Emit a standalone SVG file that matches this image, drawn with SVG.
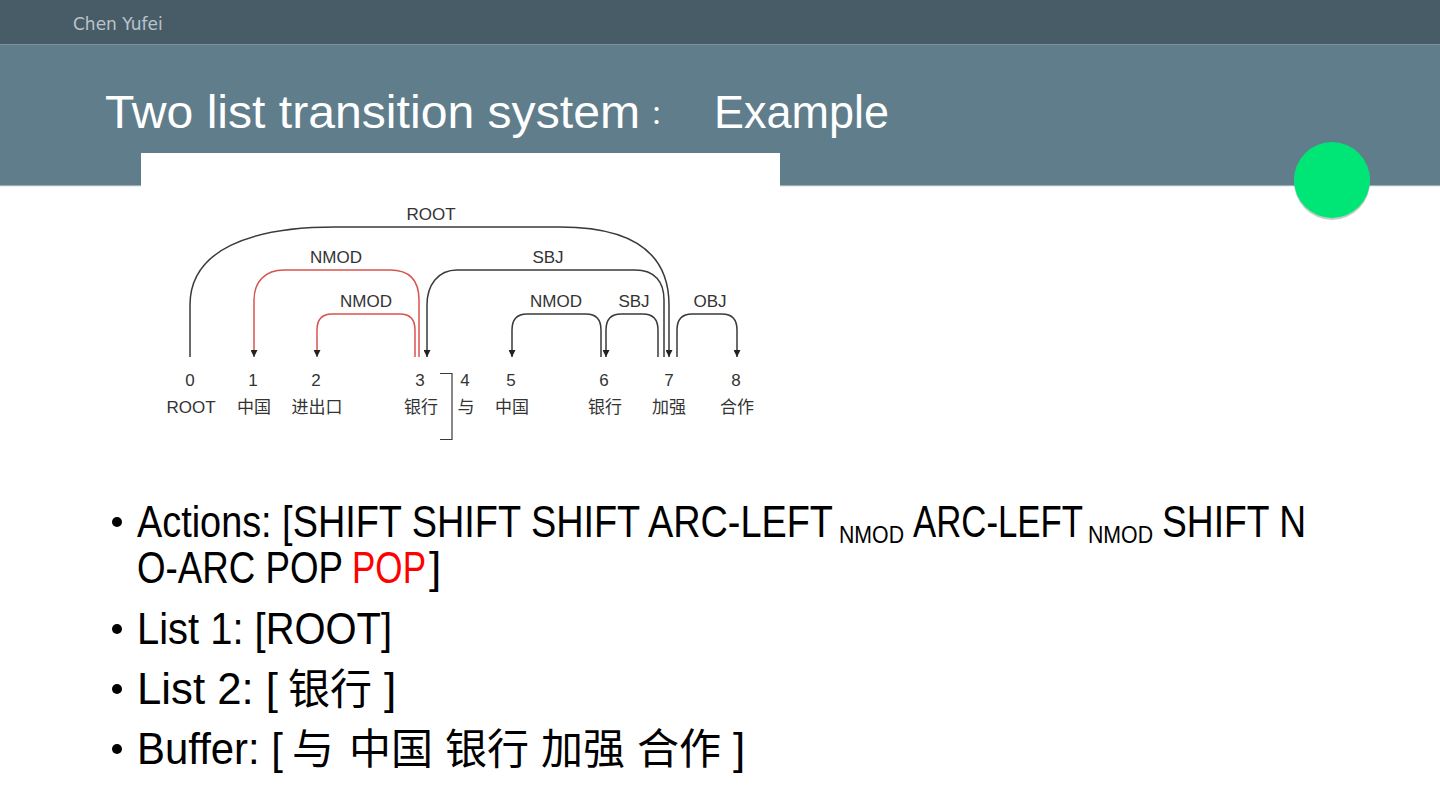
<svg xmlns="http://www.w3.org/2000/svg" width="1440" height="810" viewBox="0 0 1440 810">
<style>
.hdr{font-family:"DejaVu Sans",sans-serif;font-size:17px;fill:#b9c4ca}
.title{font-family:"Liberation Sans","Noto Sans CJK SC",sans-serif;font-size:47px;fill:#ffffff}
.lbl{font-family:"Liberation Sans",Arial,sans-serif;font-size:17px;fill:#333333;text-anchor:middle}
.cjk{font-family:"Noto Sans CJK SC",sans-serif;font-size:17px;fill:#333333;text-anchor:middle}
.arc{fill:none;stroke:#3a3a3a;stroke-width:1.5}
.red{stroke:#d9534f}
.body{font-family:"Liberation Sans Narrow","Liberation Sans","Noto Sans CJK SC",sans-serif;font-size:44px;fill:#000000}
.sub{font-family:"Liberation Sans Narrow","Liberation Sans",sans-serif;font-size:24px;fill:#000000}
.bcjk{font-family:"Noto Sans CJK SC",sans-serif;font-size:42px;fill:#000000}
</style>
<defs>
<marker id="ah" viewBox="0 0 10 10" refX="10" refY="5" markerWidth="7" markerHeight="7" markerUnits="userSpaceOnUse" orient="auto">
<path d="M0,0 L10,5 L0,10 z" fill="#222"/>
</marker>
</defs>
<!-- background bands -->
<rect x="0" y="0" width="1440" height="810" fill="#ffffff"/>
<rect x="0" y="0" width="1440" height="44" fill="#485c68"/>
<rect x="0" y="44" width="1440" height="142" fill="#607d8b"/>
<line x1="0" y1="44.5" x2="1440" y2="44.5" stroke="#7d939e" stroke-width="1"/>
<line x1="0" y1="186" x2="1440" y2="186" stroke="#d7e0e5" stroke-width="1"/>
<text class="hdr" x="73" y="30">Chen Yufei</text>
<text class="title" y="128"><tspan x="105" textLength="535" lengthAdjust="spacingAndGlyphs">Two list transition system</tspan><tspan x="650" style="font-size:26px" dy="-4">：</tspan><tspan x="714" y="128" textLength="175" lengthAdjust="spacingAndGlyphs">Example</tspan></text>
<!-- green circle -->
<circle cx="1332" cy="182" r="38" fill="#9aa89f" opacity="0.6"/>
<circle cx="1332" cy="180" r="38" fill="#00e676"/>
<!-- image area -->
<rect x="141" y="153" width="639" height="300" fill="#ffffff"/>
<g id="connectors">
<path class="arc" d="M190,357 V305 C190,250 250,227 335,227 H560 C635,227 669,255 669,305 V357" marker-end="url(#ah)"/>
<path class="arc red" d="M419,357 V300 C419,280 410,270 390,270 H284 C265,270 254,282 254,300 V357" marker-end="url(#ah)"/>
<path class="arc red" d="M415,357 V330 C415,320 410,314 400,314 H332 C322,314 317,320 317,330 V357" marker-end="url(#ah)"/>
<path class="arc" d="M664,357 V300 C664,282 655,270 635,270 H457 C438,270 427,285 427,305 V357" marker-end="url(#ah)"/>
<path class="arc" d="M601,357 V330 C601,320 596,314 586,314 H527 C517,314 512,320 512,330 V357" marker-end="url(#ah)"/>
<path class="arc" d="M658,357 V330 C658,320 653,314 643,314 H621 C611,314 606,320 606,330 V357" marker-end="url(#ah)"/>
<path class="arc" d="M677,357 V330 C677,320 682,314 692,314 H722 C732,314 737,320 737,330 V357" marker-end="url(#ah)"/>
<path d="M440,373.5 H452 V439.5 H440" fill="none" stroke="#3a3a3a" stroke-width="1.2"/>
<text class="lbl" x="431" y="220">ROOT</text>
<text class="lbl" x="336" y="263">NMOD</text>
<text class="lbl" x="366" y="307">NMOD</text>
<text class="lbl" x="548" y="263">SBJ</text>
<text class="lbl" x="556" y="307">NMOD</text>
<text class="lbl" x="634" y="307">SBJ</text>
<text class="lbl" x="710" y="307">OBJ</text>
</g>
<g id="n0"><text class="lbl" x="190" y="386">0</text><text class="lbl" x="191" y="413">ROOT</text></g>
<g id="n1"><text class="lbl" x="253" y="386">1</text><text class="cjk" x="254" y="413">中国</text></g>
<g id="n2"><text class="lbl" x="316" y="386">2</text><text class="cjk" x="317" y="413">进出口</text></g>
<g id="n3"><text class="lbl" x="420" y="386">3</text><text class="cjk" x="421" y="413">银行</text></g>
<g id="n4"><text class="lbl" x="465" y="386">4</text><text class="cjk" x="466" y="413">与</text></g>
<g id="n5"><text class="lbl" x="511" y="386">5</text><text class="cjk" x="512" y="413">中国</text></g>
<g id="n6"><text class="lbl" x="604" y="386">6</text><text class="cjk" x="605" y="413">银行</text></g>
<g id="n7"><text class="lbl" x="669" y="386">7</text><text class="cjk" x="669" y="413">加强</text></g>
<g id="n8"><text class="lbl" x="736" y="386">8</text><text class="cjk" x="737" y="413">合作</text></g>
<!-- bullets -->
<g id="bullets">
<circle cx="117" cy="522" r="5" fill="#000"/>
<text class="body" x="137" y="537" textLength="696" lengthAdjust="spacingAndGlyphs">Actions: [SHIFT SHIFT SHIFT ARC-LEFT</text>
<text class="sub" x="839" y="543" textLength="65" lengthAdjust="spacingAndGlyphs">NMOD</text>
<text class="body" x="913" y="537" textLength="170" lengthAdjust="spacingAndGlyphs">ARC-LEFT</text>
<text class="sub" x="1088" y="543" textLength="65" lengthAdjust="spacingAndGlyphs">NMOD</text>
<text class="body" x="1162" y="537" textLength="144" lengthAdjust="spacingAndGlyphs">SHIFT N</text>
<text class="body" x="137" y="583" textLength="206" lengthAdjust="spacingAndGlyphs">O-ARC POP</text>
<text class="body" x="352" y="583" style="fill:#ff0000" textLength="74" lengthAdjust="spacingAndGlyphs">POP</text>
<text class="body" x="429" y="583">]</text>
<circle cx="117" cy="629" r="5" fill="#000"/>
<text class="body" x="137" y="644" textLength="255" lengthAdjust="spacingAndGlyphs">List 1: [ROOT]</text>
<circle cx="117" cy="689" r="5" fill="#000"/>
<text class="body" y="704"><tspan x="137" textLength="141" lengthAdjust="spacingAndGlyphs">List 2: [</tspan><tspan class="bcjk" x="288">银行</tspan><tspan x="384">]</tspan></text>
<circle cx="117" cy="749" r="5" fill="#000"/>
<text class="body" y="764"><tspan x="137" textLength="146" lengthAdjust="spacingAndGlyphs">Buffer: [</tspan><tspan class="bcjk" x="292">与</tspan><tspan class="bcjk" x="349">中国</tspan><tspan class="bcjk" x="445">银行</tspan><tspan class="bcjk" x="541">加强</tspan><tspan class="bcjk" x="637">合作</tspan><tspan x="733">]</tspan></text>
</g>
</svg>
